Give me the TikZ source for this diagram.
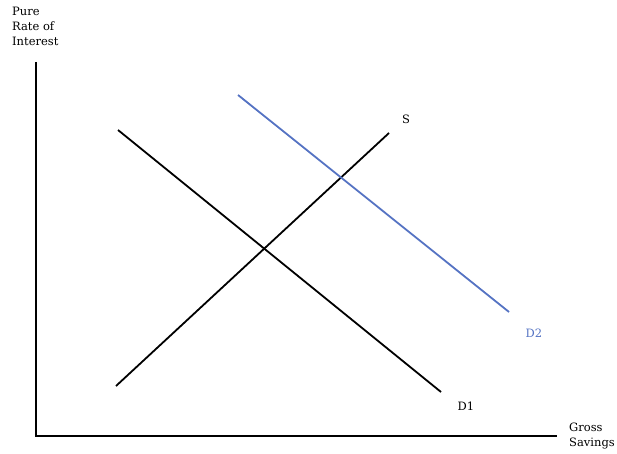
\documentclass[tikz,border=0pt]{standalone}
\usepackage{fontspec}
\setmainfont{DejaVu Serif}
\definecolor{dblue}{RGB}{85,115,195}
\begin{document}
\begin{tikzpicture}[x=1pt,y=-1pt,
  axis/.style={line width=2.6pt,black},
  curve/.style={line width=1.8pt,black},
  lbl/.style={font=\fontsize{11.5}{15}\selectfont,inner sep=0pt},
]
\useasboundingbox (0,0) rectangle (617,454);
\coordinate (o) at (36,436);
\coordinate (ytop) at (36,62);
\coordinate (xend) at (557,436);
\draw[axis] (ytop) -- (o) -- (xend);
\coordinate (d1a) at (118,130);
\coordinate (d1b) at (441,392);
\coordinate (sa) at (116,386);
\coordinate (sb) at (389,133);
\coordinate (d2a) at (238,95);
\coordinate (d2b) at (509,312);
\draw[curve] (d1a) -- (d1b);
\draw[curve] (sa) -- (sb);
\draw[line width=1.8pt,dblue] (d2a) -- (d2b);
\node[lbl,anchor=north west,align=left] (ylab) at (12,7) {Pure\\Rate of\\Interest};
\node[lbl,anchor=north west,align=left] (xlab) at (569,423) {Gross\\Savings};
\node[lbl] (slab) at (406,119) {S};
\node[lbl,text=dblue] (d2lab) at (534,333) {D2};
\node[lbl] (d1lab) at (466,406) {D1};
\end{tikzpicture}
\end{document}
